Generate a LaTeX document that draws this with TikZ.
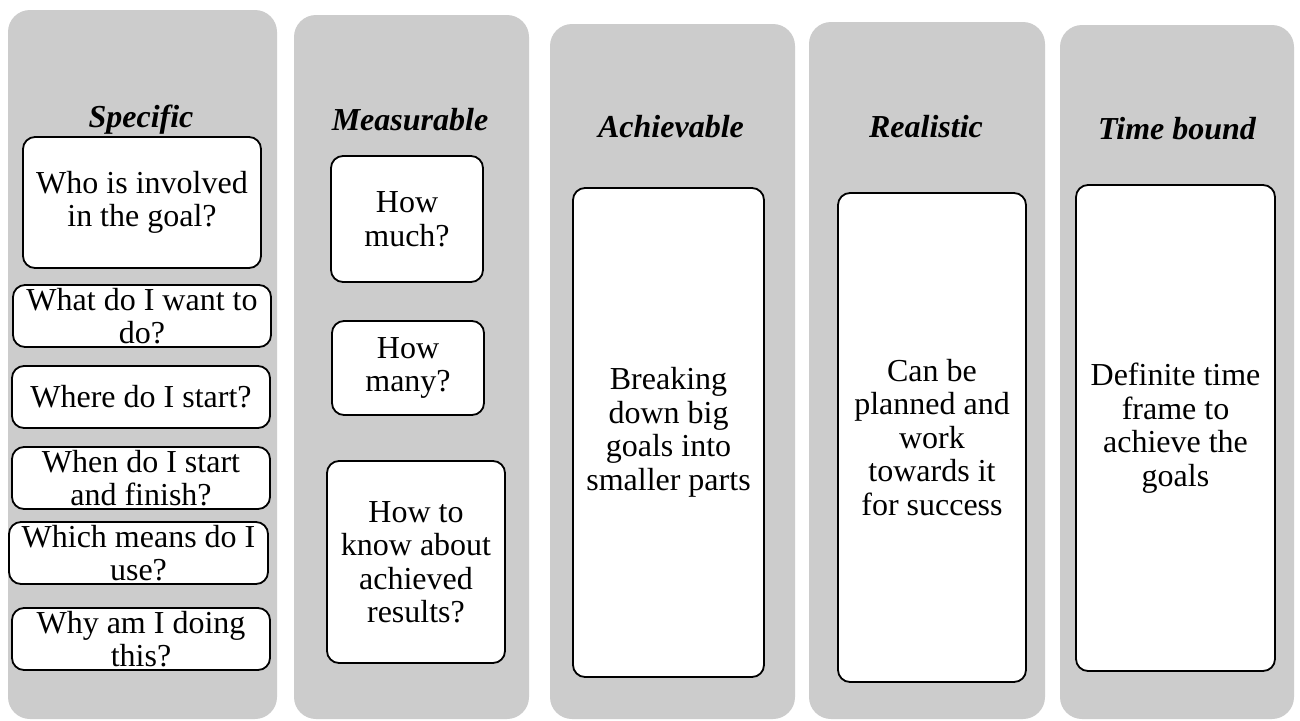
\documentclass[tikz,border=0pt]{standalone}
\usepackage{fontspec}
\setmainfont{Liberation Serif}
\definecolor{panelgray}{RGB}{204,204,204}
\begin{document}
\begin{tikzpicture}[x=1pt,y=-1pt,
  panel/.style={fill=panelgray, draw=none, rounded corners=22pt, inner sep=0pt},
  cell/.style={draw=black, fill=white, line width=1.8pt, rounded corners=12pt, inner sep=0pt, align=center, font=\fontsize{32}{33.5}\selectfont},
  title/.style={anchor=base, inner sep=0pt, font=\fontsize{32}{34}\selectfont\bfseries\itshape}]
\useasboundingbox[fill=white] (0,0) rectangle (1300,720);

% panels
\node[panel, minimum width=269pt, minimum height=709pt] (p1) at (142.5,364.5) {};
\node[panel, minimum width=235pt, minimum height=704pt] (p2) at (411.5,367) {};
\node[panel, minimum width=245pt, minimum height=695pt] (p3) at (672.5,371.5) {};
\node[panel, minimum width=236pt, minimum height=697pt] (p4) at (927,370.5) {};
\node[panel, minimum width=234pt, minimum height=694pt] (p5) at (1177,372) {};

% titles
\node[title] (t1) at (141,127) {Specific};
\node[title] (t2) at (410,130) {Measurable};
\node[title] (t3) at (671,137) {Achievable};
\node[title] (t4) at (926,137) {Realistic};
\node[title] (t5) at (1177,139) {Time bound};

% Specific
\node[cell, minimum width=238pt, minimum height=131pt] (s1) at (142,202.5) {Who is involved\\in the goal?};
\node[cell, minimum width=258pt, minimum height=62pt] (s2) at (142,316) {What do I want to\\do?};
\node[cell, minimum width=258pt, minimum height=62pt] (s3) at (141,397) {Where do I start?};
\node[cell, minimum width=258pt, minimum height=62pt] (s4) at (141,478) {When do I start\\and finish?};
\node[cell, minimum width=259pt, minimum height=62pt] (s5) at (138.5,553) {Which means do I\\use?};
\node[cell, minimum width=258pt, minimum height=62pt] (s6) at (141,639) {Why am I doing\\this?};

% Measurable
\node[cell, minimum width=152pt, minimum height=126pt] (m1) at (407,219) {How\\much?};
\node[cell, minimum width=152pt, minimum height=94pt] (m2) at (408,368) {How\\many?};
\node[cell, minimum width=178pt, minimum height=202pt] (m3) at (416,562) {How to\\know about\\achieved\\results?};

% Achievable
\node[cell, minimum width=191pt, minimum height=489pt] (a1) at (668.5,432.5) {Breaking\\down big\\goals into\\smaller parts};

% Realistic
\node[cell, minimum width=188pt, minimum height=489pt] (r1) at (932,437.5) {Can be\\planned and\\work\\towards it\\for success};

% Time bound
\node[cell, minimum width=199pt, minimum height=486pt] (b1) at (1175.5,428) {Definite time\\frame to\\achieve the\\goals};
\end{tikzpicture}
\end{document}
